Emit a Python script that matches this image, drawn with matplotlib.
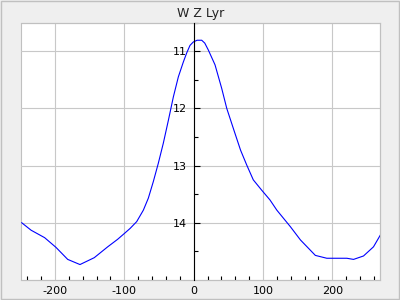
import numpy as np
import matplotlib
matplotlib.use("Agg")
import matplotlib.pyplot as plt
from matplotlib.patches import Rectangle

# light curve (phase offset, magnitude)
phase = [-248, -234.5, -215, -198.6, -181.7, -164, -143.4, -124, -109.8, -99.3,
         -91.8, -82.2, -72.6, -65.4, -58.2, -51, -43.8, -36.5, -29.3, -22.1,
         -14.9, -10, -5.3, -0.5, 5, 11.6, 16, 21.1, 30.8, 40.4, 47.7, 58,
         67.6, 76.5, 86, 98.1, 110, 120, 139.6, 154, 175.5, 192, 221,
         230.6, 245, 259.4, 269]
mag = [14.0, 14.13, 14.26, 14.43, 14.64, 14.73, 14.61, 14.42, 14.29, 14.18,
       14.10, 13.98, 13.78, 13.57, 13.28, 12.96, 12.61, 12.21, 11.80, 11.45,
       11.19, 11.03, 10.90, 10.84, 10.81, 10.81, 10.86, 10.98, 11.24, 11.65,
       12.0, 12.38, 12.73, 12.99, 13.25, 13.43, 13.60, 13.78, 14.07,
       14.30, 14.57, 14.62, 14.62, 14.64, 14.58, 14.42, 14.22]
title = "W Z Lyr"
x_major = [-200, -100, 0, 100, 200]
x_minor = list(range(-240, 270, 20))
y_major = [11, 12, 13, 14]
y_minor = [10.5, 11.5, 12.5, 13.5, 14.5]

plt.rcParams["axes.unicode_minus"] = False

bg = "#efefef"
frame = "#c0c0c0"
grid_c = "#c8c8c8"

fig = plt.figure(figsize=(4, 3), dpi=100, facecolor=bg)
ax = fig.add_axes([20.7 / 400, 20 / 300, 359.6 / 400, 257.5 / 300])
ax.set_facecolor("white")

ax.plot(phase, mag, color="#0000ff", lw=0.8)

ax.set_xlim(-249.5, 269.2)
ax.set_ylim(15.0, 10.5)

ax.set_xticks(x_major)
ax.set_xticks(x_minor, minor=True)
ax.set_yticks(y_major)
ax.set_yticks(y_minor, minor=True)

ax.grid(True, which="major", color=grid_c, lw=0.8)
ax.set_axisbelow(True)

# y axis drawn through x = 0
ax.spines["left"].set_position(("data", 0))
ax.spines["left"].set_color("black")
ax.spines["left"].set_linewidth(0.8)
ax.spines["left"].set_zorder(3)
for s in ["right", "top", "bottom"]:
    ax.spines[s].set_color(frame)
    ax.spines[s].set_linewidth(0.8)
ax.add_patch(Rectangle((0, 0), 1, 1, transform=ax.transAxes, fill=False,
                       edgecolor=frame, lw=0.8, clip_on=False, zorder=0.5))

ax.tick_params(axis="x", which="both", direction="in", length=2.6, width=0.8,
               color="black", labelsize=8, pad=3)
ax.tick_params(axis="x", which="major", length=0, pad=4.5)
ax.tick_params(axis="y", which="major", direction="in", length=4.3, width=0.8,
               color="black", labelsize=8, pad=5)
ax.tick_params(axis="y", which="minor", direction="in", length=2.9, width=0.8,
               color="black")

ax.set_title(title, fontsize=9, pad=4, color="#222222")

# outer border of the figure
fig.patches.append(Rectangle((0.5 / 400, 1.5 / 300), 398 / 400, 298 / 300,
                             transform=fig.transFigure, fill=False,
                             edgecolor=frame, lw=1.0))

fig.savefig("out.png", dpi=100, facecolor=bg)
